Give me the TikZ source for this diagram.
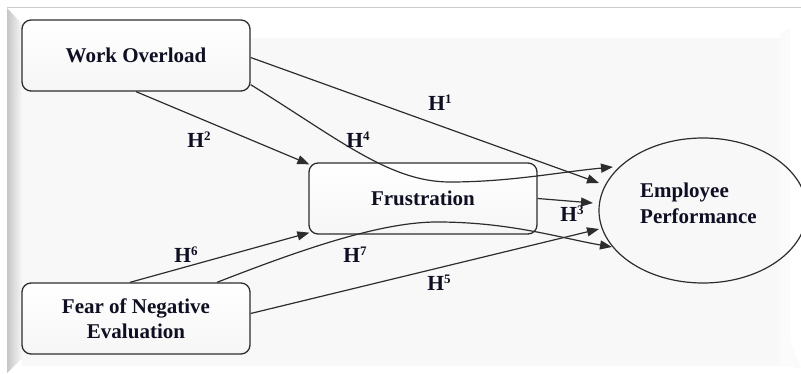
\documentclass[tikz,border=0pt]{standalone}
\usepackage{fontspec}
\setmainfont{Liberation Serif}
\usetikzlibrary{arrows.meta,shapes.geometric}
\definecolor{panel}{RGB}{248,248,248}
\definecolor{linec}{RGB}{45,45,45}
\definecolor{txt}{RGB}{15,15,35}
\newcommand\hyp[1]{H\raisebox{0.72ex}{\fontsize{13}{13}\selectfont #1}}
\tikzset{
  box/.style={draw=linec, line width=1.3pt, rounded corners=9pt, minimum width=228pt, minimum height=71pt,
     top color=white, bottom color=gray!7, inner sep=0pt, align=center, text=txt,
     font=\fontsize{21}{25}\selectfont\bfseries},
  lbl/.style={text=txt, font=\fontsize{21.5}{22}\selectfont\bfseries, inner sep=0pt},
  conn/.style={draw=linec, line width=1.2pt, -{Triangle[length=12pt,width=9pt]}}
}
\begin{document}
\begin{tikzpicture}[x=1pt,y=-1pt]
\useasboundingbox (0,0) rectangle (801,374);
% frame / background
\fill[white] (0,0) rectangle (801,374);
\fill[panel] (22,38) rectangle (780,366);
\fill[gray!3] (780,33) -- (790,28) -- (790,340) -- (801,368) -- (780,366) -- cycle;
\shade[left color=gray!45, right color=gray!6] (7,8) -- (22,24) -- (22,358) -- (7,373) -- cycle;
\draw[gray!40, line width=1pt] (7,8) -- (801,8);
% nodes
\node[box] (wo) at (136,55.5) {Work Overload};
\node[box] (fr) at (423,198.5) {Frustration};
\node[box] (fne) at (136,318.5) {Fear of Negative\\Evaluation};
\node[draw=linec, line width=1.2pt, ellipse, minimum width=208pt, minimum height=145pt, inner sep=0pt] (ep) at (703,210.5) {};
\node[text=txt, font=\fontsize{21}{26}\selectfont\bfseries, align=left, anchor=west, inner sep=0pt] (eptext) at (640,203) {Employee\\Performance};
% arrow tip coordinates
\coordinate (t1) at (599,183);
\coordinate (t3) at (593,203);
\coordinate (t4) at (613,167);
\coordinate (t5) at (599,229);
\coordinate (t7) at (612,247);
% connectors
\draw[conn] ([yshift=-2pt]wo.east) -- (t1);
\draw[conn] (wo.south) -- ([xshift=1pt,yshift=-2pt]fr.north west);
\draw[conn] ([yshift=7pt]wo.south east) .. controls (340,140) and (390,182) .. (450,182) .. controls (510,182) and (560,172) .. (t4);
\draw[conn] (fr.east) -- (t3);
\draw[conn] ([yshift=5pt]fne.east) -- (t5);
\draw[conn] ([xshift=-6pt]fne.north) -- ([xshift=1pt,yshift=2pt]fr.south west);
\draw[conn] ([xshift=81pt]fne.north) .. controls (300,250) and (380,222) .. (437,222) .. controls (510,222) and (560,238) .. (t7);
% labels
\node[lbl] (h1) at (440,103) {\hyp{1}};
\node[lbl] (h2) at (199,140) {\hyp{2}};
\node[lbl] (h4) at (358,140) {\hyp{4}};
\node[lbl] (h3) at (572,214) {\hyp{3}};
\node[lbl] (h5) at (439,283) {\hyp{5}};
\node[lbl] (h6) at (186,255) {\hyp{6}};
\node[lbl] (h7) at (355,255) {\hyp{7}};
\end{tikzpicture}
\end{document}
